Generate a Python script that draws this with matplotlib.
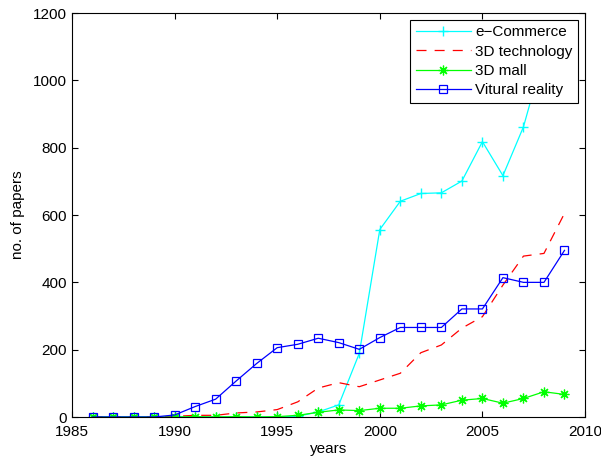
import matplotlib
matplotlib.use("Agg")
import matplotlib.pyplot as plt

years = list(range(1986, 2010))
ecommerce = [0, 0, 0, 0, 0, 0, 0, 0, 0, 0, 2, 15, 36, 189, 557, 641, 664, 666, 701, 818, 717, 862, 1080, 1120]
tech3d = [0, 0, 0, 0, 2, 5, 5, 12, 15, 22, 45, 86, 102, 90, 110, 130, 191, 214, 264, 298, 392, 478, 486, 605]
mall3d = [0, 0, 0, 0, 0, 1, 0, 1, 0, 1, 5, 14, 21, 19, 26, 26, 33, 36, 50, 55, 41, 55, 75, 67]
vr = [0, 0, 0, 0, 6, 31, 53, 107, 159, 206, 216, 234, 221, 201, 236, 266, 266, 266, 321, 321, 414, 400, 400, 495]

plt.rcParams['font.family'] = ['Liberation Sans', 'DejaVu Sans']
fig = plt.figure(figsize=(6.01, 4.59), dpi=100)
ax = fig.add_axes([0.1198, 0.0915, 0.8536, 0.880])

ax.plot(years, ecommerce, color='#00ffff', marker='+', markersize=7, lw=0.9, label='e\u2212Commerce')
ax.plot(years, tech3d, color='#ff0000', ls=(0, (8, 6.5)), lw=0.9, label='3D technology')
ax.plot(years, mall3d, color='#00ff00', marker=(8, 2, 0), markersize=7, mew=0.9, lw=0.9, label='3D mall')
ax.plot(years, vr, color='#0000ff', marker='s', markersize=5.5, mfc='none', mew=0.9, lw=0.9, label='Vitural reality')

ax.set_xlim(1985, 2010)
ax.set_ylim(0, 1200)
ax.set_xticks(range(1985, 2011, 5))
ax.set_yticks(range(0, 1201, 200))
ax.tick_params(direction='in', top=True, right=True, labelsize=11, length=4)
ax.tick_params(axis='x', pad=5.5)
for s in ax.spines.values():
    s.set_linewidth(0.8)
ax.set_xlabel('years', fontsize=11, labelpad=2.5)
ax.set_ylabel('no. of papers', fontsize=11, labelpad=6)

leg = ax.legend(loc='upper right', fontsize=11, fancybox=False, framealpha=1,
                edgecolor='black', handlelength=3.6, borderaxespad=0.45,
                labelspacing=0.35, handletextpad=0.3, borderpad=0.35)
leg.get_frame().set_linewidth(0.8)
leg.set_zorder(5)

fig.savefig('out.png', dpi=100)
